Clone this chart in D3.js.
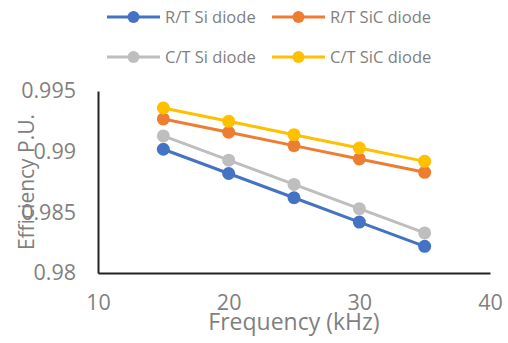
<!DOCTYPE html>
<html>
<head>
<meta charset="utf-8">
<script src="https://cdn.jsdelivr.net/npm/d3@7/dist/d3.min.js"></script>
<style>
  body { margin: 0; background: #fff; }
  svg text { font-family: "Open Sans", Lato, sans-serif; fill: #7f7f7f; }
</style>
</head>
<body>
<div class="chart"></div>
<script>
var frequency = [15, 20, 25, 30, 35];
var rtSi = [0.9902, 0.9882, 0.9862, 0.9842, 0.9822];
var rtSiC = [0.9927, 0.9916, 0.9905, 0.9894, 0.9883];
var ctSi = [0.9913, 0.9893, 0.9873, 0.9853, 0.9833];
var ctSiC = [0.9936, 0.9925, 0.9914, 0.9903, 0.9892];
var xTicks = [10, 20, 30, 40];
var yTicks = [0.98, 0.985, 0.99, 0.995];

var series = [
    { name: 'R/T Si diode', values: rtSi, color: '#4472c4' },
    { name: 'R/T SiC diode', values: rtSiC, color: '#ed7d31' },
    { name: 'C/T Si diode', values: ctSi, color: '#bebebe' },
    { name: 'C/T SiC diode', values: ctSiC, color: '#ffc000' }
];

var svgWidth = 508, svgHeight = 343;
const margin = { top: 91, bottom: 70, left: 98, right: 18 };
var w = svgWidth - margin.left - margin.right;
var h = svgHeight - margin.top - margin.bottom;

var svg = d3.select('div.chart')
    .append('svg')
    .attr('width', svgWidth)
    .attr('height', svgHeight);

var chart = svg.append('g')
    .attr('transform', 'translate(' + margin.left + ',' + margin.top + ')');

var x = d3.scaleLinear().domain([10, 40]).range([0, w]);
var y = d3.scaleLinear().domain([0.98, 0.995]).range([h, 0]);

// axes
var yAxis = chart.append('g')
    .call(d3.axisLeft(y).tickValues(yTicks).tickSize(0).tickPadding(22).tickFormat(d3.format('')));
var xAxis = chart.append('g')
    .attr('transform', 'translate(0,' + h + ')')
    .call(d3.axisBottom(x).tickValues(xTicks).tickSize(0).tickPadding(22));

[xAxis, yAxis].forEach(function (a) {
    a.select('.domain').attr('stroke', '#222').attr('stroke-width', 2);
    a.selectAll('text').style('font-size', '21.5px').attr('fill', '#7f7f7f');
});

// lines and markers
var line = d3.line()
    .x(function (d, i) { return x(frequency[i]); })
    .y(function (d) { return y(d); });

series.forEach(function (s) {
    chart.append('path')
        .datum(s.values)
        .attr('d', line)
        .attr('fill', 'none')
        .attr('stroke', s.color)
        .attr('stroke-width', 3);
    chart.selectAll(null)
        .data(s.values)
        .enter()
        .append('circle')
        .attr('cx', function (d, i) { return x(frequency[i]); })
        .attr('cy', function (d) { return y(d); })
        .attr('r', 6.5)
        .attr('fill', s.color);
});

// axis titles
svg.append('text')
    .attr('x', margin.left + w / 2)
    .attr('y', 330)
    .attr('text-anchor', 'middle')
    .style('font-size', '23px')
    .text('Frequency (kHz)');

svg.append('text')
    .attr('transform', 'translate(34,182) rotate(-90)')
    .attr('text-anchor', 'middle')
    .style('font-size', '21px')
    .text('Efficiency P.U.');

// legend
var legendPos = [[107, 17], [272, 17], [107, 57], [272, 57]];
series.forEach(function (s, i) {
    var g = svg.append('g')
        .attr('transform', 'translate(' + legendPos[i][0] + ',' + legendPos[i][1] + ')');
    g.append('line')
        .attr('x1', 0).attr('x2', 53)
        .attr('stroke', s.color).attr('stroke-width', 3);
    g.append('circle')
        .attr('cx', 26.5).attr('r', 6).attr('fill', s.color);
    g.append('text')
        .attr('x', 58)
        .attr('dy', '0.35em')
        .style('font-size', '16.5px')
        .text(s.name);
});
</script>
</body>
</html>
